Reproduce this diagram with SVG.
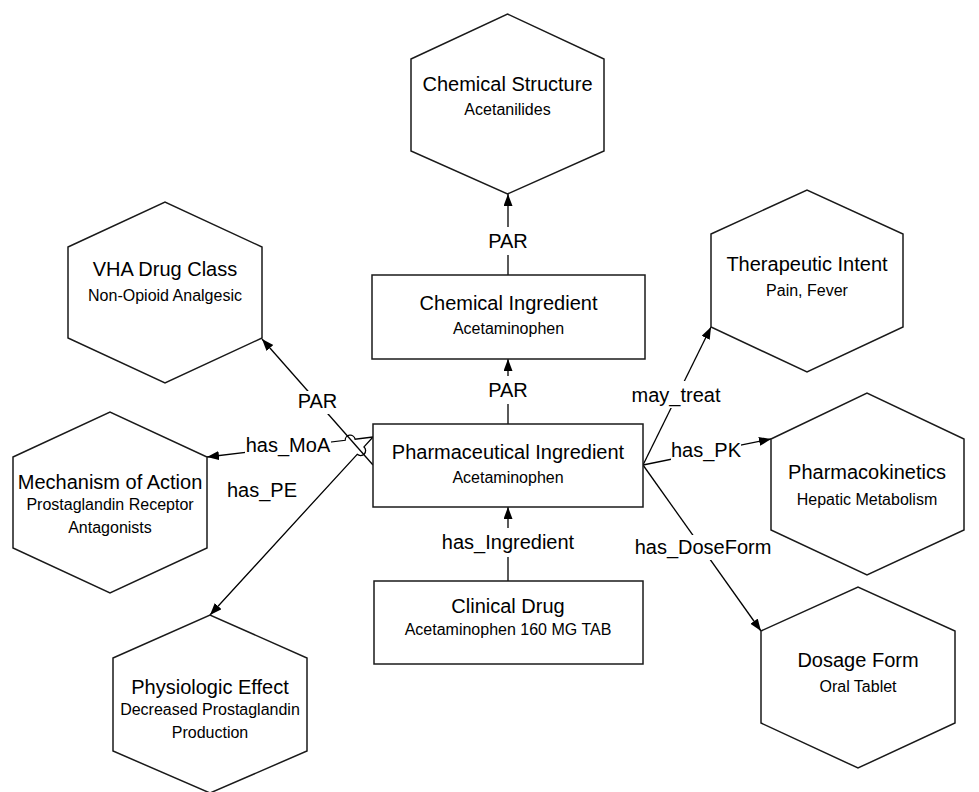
<svg xmlns="http://www.w3.org/2000/svg" width="979" height="792" viewBox="0 0 979 792">
<defs>
<marker id="arr" markerUnits="userSpaceOnUse" markerWidth="13" markerHeight="10" refX="12" refY="4.5" orient="auto">
<path d="M0,0 L12,4.5 L0,9 z" fill="#000"/>
</marker>
<style>
.shape{fill:#fff;stroke:#1a1a1a;stroke-width:1.5}
.t{font-family:"Liberation Sans",Arial,sans-serif;font-size:20px;fill:#000;text-anchor:middle}
.s{font-family:"Liberation Sans",Arial,sans-serif;font-size:16px;fill:#000;text-anchor:middle}
.c{fill:none;stroke:#000;stroke-width:1.3;marker-end:url(#arr)}
.bg{fill:#fff;stroke:none}
.lbl{font-family:"Liberation Sans",Arial,sans-serif;font-size:20px;fill:#000;text-anchor:middle}
</style>
</defs>
<rect width="979" height="792" fill="#fff"/>

<g id="connectors">
<path class="c" d="M508,275 L508,194"/>
<path class="c" d="M508,424 L508,359"/>
<path class="c" d="M508,581 L508,507"/>
<path class="c" d="M373,465 L262,339"/>
<path class="c" d="M373,437 L355.1,439.2 A5,5 0 0 0 345.2,440.3 L207,457"/>
<path class="c" d="M373,437 L364,446.9 A5,5 0 0 1 357.2,454.3 L210,615"/>
<path class="c" d="M643,465 L711,327"/>
<path class="c" d="M643,465 L771,439"/>
<path class="c" d="M643,465 L761,631"/>
<rect class="bg" x="486" y="227" width="44" height="28"/>
<text class="lbl" x="508" y="248">PAR</text>
<rect class="bg" x="486" y="376" width="44" height="28"/>
<text class="lbl" x="508" y="397">PAR</text>
<rect class="bg" x="441" y="528" width="134" height="29"/>
<text class="lbl" x="508" y="549">has_Ingredient</text>
<rect class="bg" x="296" y="391" width="43" height="23"/>
<text class="lbl" x="317.5" y="408">PAR</text>
<rect class="bg" x="245" y="435" width="86" height="22"/>
<text class="lbl" x="288" y="452">has_MoA</text>
<rect class="bg" x="227" y="480" width="70" height="22"/>
<text class="lbl" x="262" y="497">has_PE</text>
<rect class="bg" x="631" y="381" width="90" height="27"/>
<text class="lbl" x="676" y="402">may_treat</text>
<rect class="bg" x="671" y="439" width="70" height="23"/>
<text class="lbl" x="706" y="457">has_PK</text>
<rect class="bg" x="635" y="535" width="137" height="25"/>
<text class="lbl" x="703" y="554">has_DoseForm</text>
</g>

<g id="chemical-structure">
<polygon class="shape" points="411,59 507.5,14 604,59 604,151 507.5,194 411,151"/>
<text class="t" x="507.5" y="91">Chemical Structure</text>
<text class="s" x="507.5" y="115">Acetanilides</text>
</g>

<g id="vha-drug-class">
<polygon class="shape" points="68,247 165,202 262,247 262,338 165,383 68,338"/>
<text class="t" x="165" y="276">VHA Drug Class</text>
<text class="s" x="165" y="301">Non-Opioid Analgesic</text>
</g>

<g id="therapeutic-intent">
<polygon class="shape" points="711,234 807,190 903,234 903,327 807,372 711,327"/>
<text class="t" x="807" y="271">Therapeutic Intent</text>
<text class="s" x="807" y="296">Pain, Fever</text>
</g>

<g id="mechanism-of-action">
<polygon class="shape" points="13,457 110,412 207,457 207,548 110,593 13,548"/>
<text class="t" x="110" y="489">Mechanism of Action</text>
<text class="s" x="110" y="510">Prostaglandin Receptor</text>
<text class="s" x="110" y="533">Antagonists</text>
</g>

<g id="pharmacokinetics">
<polygon class="shape" points="771,439 867,393 964,439 964,530 867,575 771,530"/>
<text class="t" x="867" y="479">Pharmacokinetics</text>
<text class="s" x="867" y="505">Hepatic Metabolism</text>
</g>

<g id="physiologic-effect">
<polygon class="shape" points="113,658 210,615 307,658 307,751 210,793 113,751"/>
<text class="t" x="210" y="694">Physiologic Effect</text>
<text class="s" x="210" y="715">Decreased Prostaglandin</text>
<text class="s" x="210" y="738">Production</text>
</g>

<g id="dosage-form">
<polygon class="shape" points="761,631 858,587 955,631 955,723 858,768 761,723"/>
<text class="t" x="858" y="667">Dosage Form</text>
<text class="s" x="858" y="692">Oral Tablet</text>
</g>

<g id="chemical-ingredient">
<rect class="shape" x="372" y="275" width="273" height="84"/>
<text class="t" x="508.5" y="310">Chemical Ingredient</text>
<text class="s" x="508.5" y="334">Acetaminophen</text>
</g>

<g id="pharmaceutical-ingredient">
<rect class="shape" x="373" y="424" width="270" height="83"/>
<text class="t" x="508" y="459">Pharmaceutical Ingredient</text>
<text class="s" x="508" y="483">Acetaminophen</text>
</g>

<g id="clinical-drug">
<rect class="shape" x="374" y="581" width="269" height="83"/>
<text class="t" x="508" y="613">Clinical Drug</text>
<text class="s" x="508" y="635">Acetaminophen 160 MG TAB</text>
</g>
</svg>
